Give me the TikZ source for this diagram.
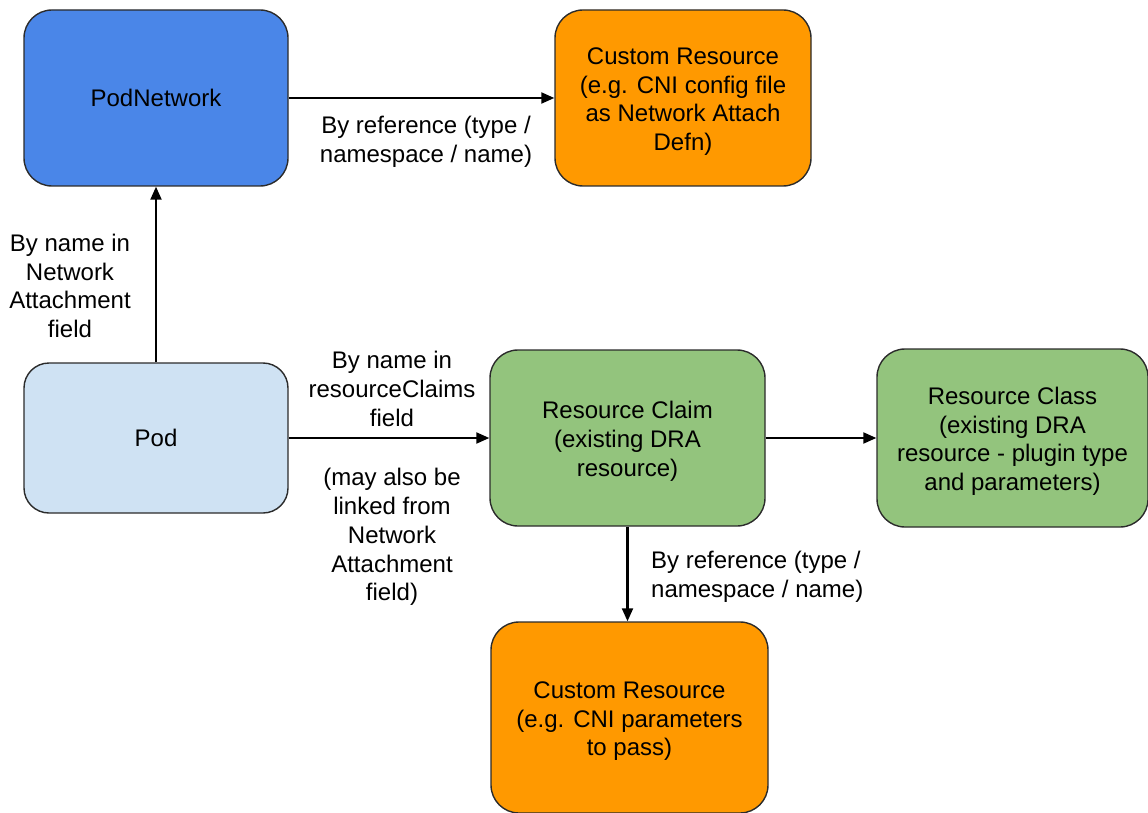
\documentclass[tikz,border=0pt]{standalone}
\usepackage{fontspec}
\setmainfont{Liberation Sans}
\usetikzlibrary{arrows.meta}
\definecolor{gblue}{HTML}{4A86E8}
\definecolor{gorange}{HTML}{FF9900}
\definecolor{glightblue}{HTML}{CFE2F3}
\definecolor{ggreen}{HTML}{93C47D}
\definecolor{edge}{HTML}{2B2B2B}
% taller first line, so multi-line box texts sit a little lower
\newcommand{\toplift}{\rule{0pt}{24pt}}
\begin{document}
\begin{tikzpicture}[x=1pt,y=-1pt,
  every node/.style={font=\fontsize{24}{28.8}\selectfont, text=black},
  box/.style={draw=edge, line width=1.4pt, rounded corners=28pt, align=center, inner sep=0pt},
  lbl/.style={align=center, inner sep=0pt},
  link/.style={line width=2.1pt, -{Triangle[length=13pt,width=11pt]}}
]
\useasboundingbox (0,0) rectangle (1148,813);

% boxes
\node[box, fill=gblue, minimum width=264pt, minimum height=176pt] (podnet) at (156,98) {PodNetwork};
\node[box, fill=gorange, minimum width=256pt, minimum height=176pt] (crtop) at (683,98)
  {\toplift Custom Resource\\(e.g. CNI config file\\as Network Attach\\Defn)};
\node[box, fill=glightblue, minimum width=264pt, minimum height=150pt, rounded corners=25pt] (pod) at (156,438) {Pod};
\node[box, fill=ggreen, minimum width=275pt, minimum height=176pt] (claim) at (627.5,438)
  {\toplift Resource Claim\\(existing DRA\\resource)};
\node[box, fill=ggreen, minimum width=271pt, minimum height=178pt] (class) at (1012.5,438)
  {\toplift Resource Class\\(existing DRA\\resource - plugin type\\and parameters)};
\node[box, fill=gorange, minimum width=277pt, minimum height=191pt] (crbot) at (629.5,717.5)
  {\toplift Custom Resource\\(e.g. CNI parameters\\to pass)};

% connectors
\draw[link] (podnet.east) -- (crtop.west);
\draw[link] (pod.north) -- (podnet.south);
\draw[link] (pod.east) -- (claim.west);
\draw[link] (claim.east) -- (class.west);
\draw[link] (claim.south) -- (claim.south |- crbot.north);

% connector labels
\node[lbl] (lref1) at (426,142) {By reference (type /\\namespace / name)};
\node[lbl] (lpodnet) at (70,286) {By name in\\Network\\Attachment\\field};
\node[lbl] (lclaimup) at (392,389) {By name in\\resourceClaims\\field};
\node[lbl] (lclaimdn) at (392,537) {(may also be\\linked from\\Network\\Attachment\\field)};
\node[lbl, align=left, anchor=west] (lref2) at (651,577) {By reference (type /\\namespace / name)};
\end{tikzpicture}
\end{document}
